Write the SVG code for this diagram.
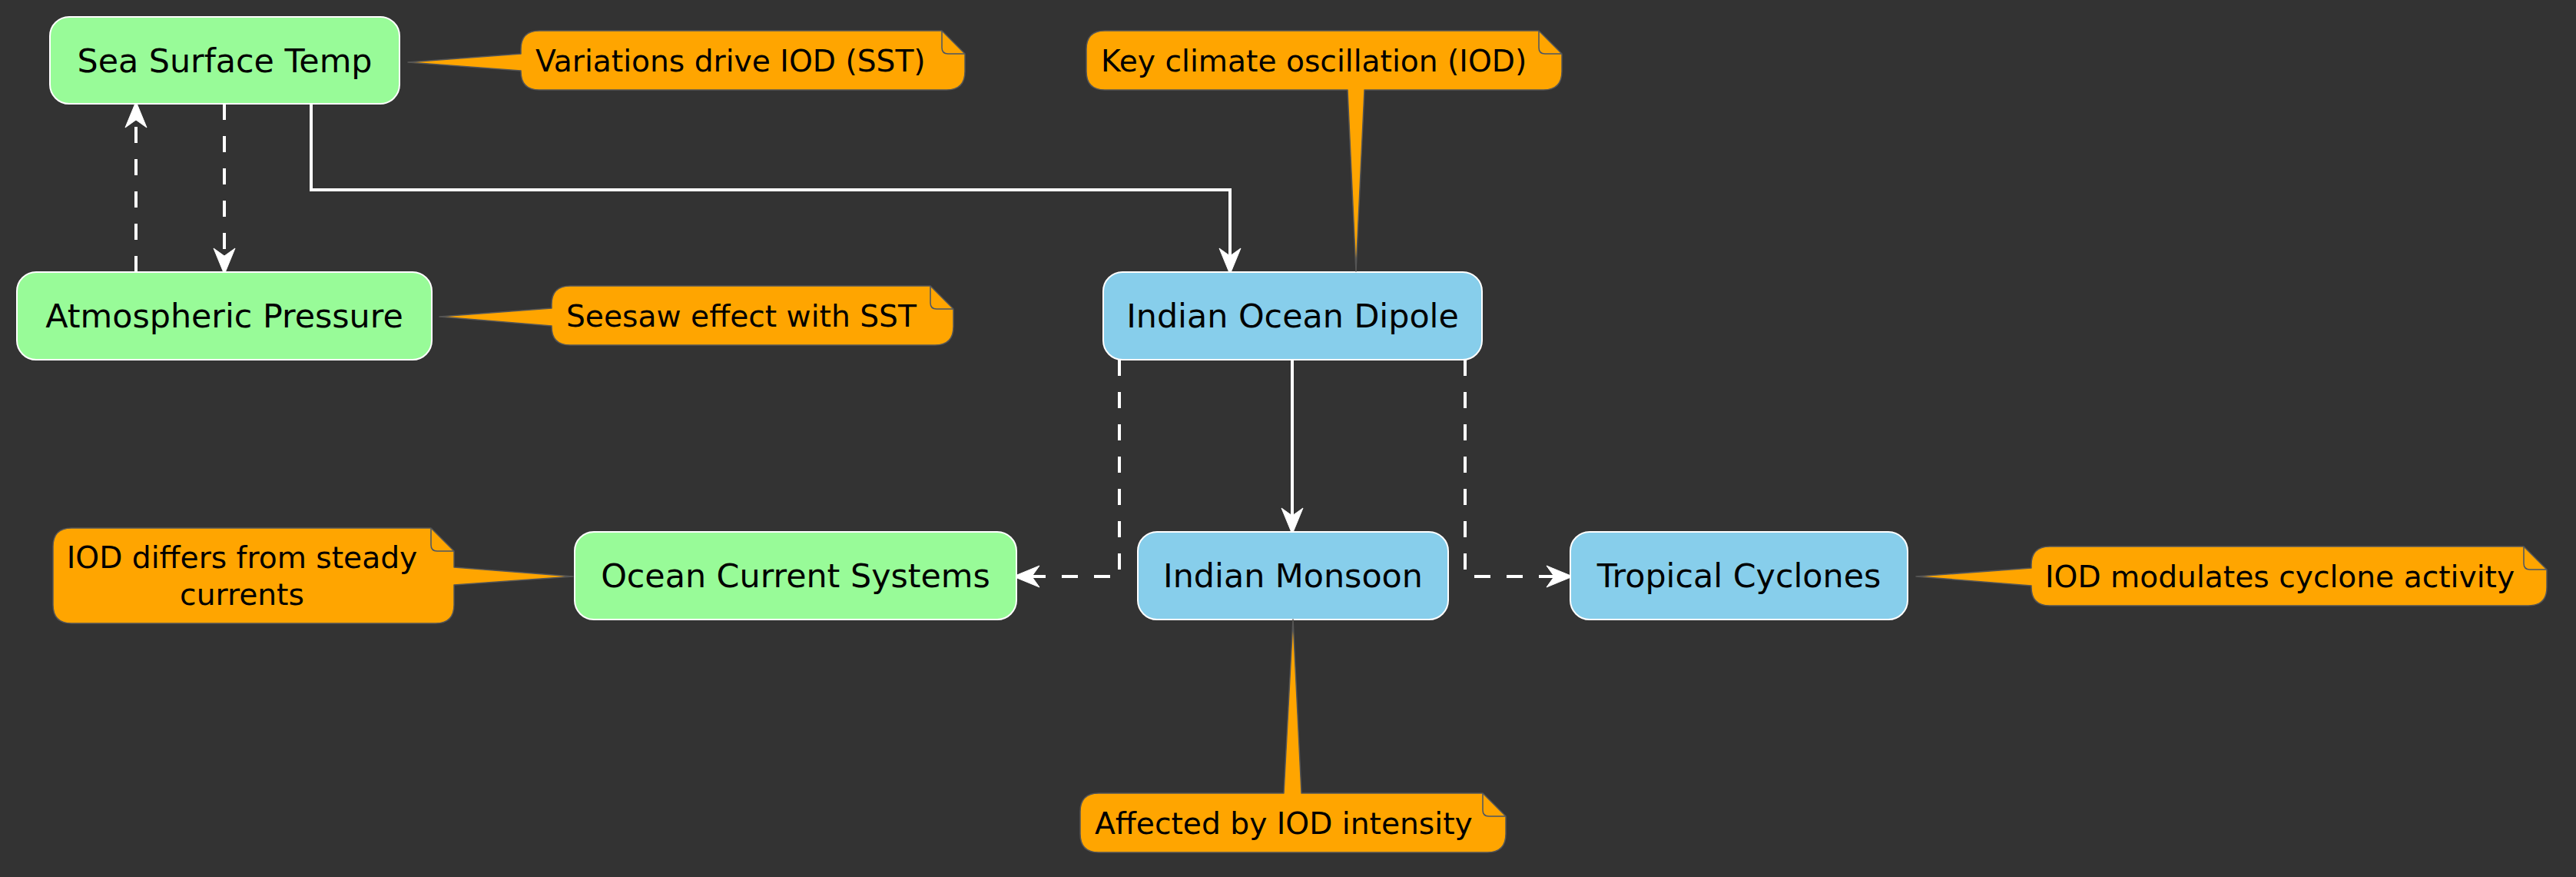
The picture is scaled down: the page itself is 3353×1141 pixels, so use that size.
<svg xmlns="http://www.w3.org/2000/svg" width="3353" height="1141" viewBox="0 0 3353 1141">
<style>
.bg{fill:#333333}
.green{fill:#98FB98;stroke:#FFFFFF;stroke-width:2}
.blue{fill:#87CEEB;stroke:#FFFFFF;stroke-width:2}
.nt{font-family:"DejaVu Sans",Verdana,sans-serif;font-size:42.8px;fill:#000000;text-anchor:middle}
.note{fill:#FFA500;stroke:#555555;stroke-width:1.5;stroke-linejoin:round}
.fold{fill:none;stroke:#4a5566;stroke-width:1.5}
.ntext{font-family:"DejaVu Sans",Verdana,sans-serif;font-size:39.2px;fill:#000000}
.edge{fill:none;stroke:#FFFFFF;stroke-width:4}
.dash{stroke-dasharray:21 21}
</style>
<defs>
<marker id="arr" markerUnits="userSpaceOnUse" viewBox="-18 -17 42 34" refX="0" refY="0" markerWidth="42" markerHeight="34" orient="auto">
<path d="M20,0 L-14,-14 L-4,0 L-14,14 Z" fill="#FFFFFF" stroke="#FFFFFF" stroke-width="1" stroke-linejoin="round"/>
</marker>
</defs>
<rect class="bg" x="0" y="0" width="3353" height="1141"/>

<g id="connectors">
<path class="edge dash" d="M292,135 L292,337" marker-end="url(#arr)"/>
<path class="edge dash" d="M177,354 L177,152" marker-end="url(#arr)"/>
<path class="edge" d="M405,135 L405,247 L1601,247 L1601,337" marker-end="url(#arr)"/>
<path class="edge" d="M1682,468 L1682,675" marker-end="url(#arr)"/>
<path class="edge dash" d="M1457,468 L1457,750 L1339,750" marker-end="url(#arr)"/>
<path class="edge dash" d="M1907,468 L1907,750 L2027,750" marker-end="url(#arr)"/>
</g>

<g id="sst">
<rect class="green" x="65" y="22" width="455" height="113" rx="25"/>
<text class="nt" x="292.5" y="93.5">Sea Surface Temp</text>
</g>
<g id="ap">
<rect class="green" x="22" y="354" width="540" height="114" rx="25"/>
<text class="nt" x="292" y="426">Atmospheric Pressure</text>
</g>
<g id="iod">
<rect class="blue" x="1436" y="354" width="493" height="114" rx="25"/>
<text class="nt" x="1682.5" y="426">Indian Ocean Dipole</text>
</g>
<g id="ocs">
<rect class="green" x="748" y="692" width="575" height="114" rx="25"/>
<text class="nt" x="1035.5" y="764">Ocean Current Systems</text>
</g>
<g id="im">
<rect class="blue" x="1481" y="692" width="404" height="114" rx="25"/>
<text class="nt" x="1683" y="764">Indian Monsoon</text>
</g>
<g id="tc">
<rect class="blue" x="2044" y="692" width="439" height="114" rx="25"/>
<text class="nt" x="2263.5" y="764">Tropical Cyclones</text>
</g>

<g id="note-sst">
<path class="note" d="M702,40 L1226,40 L1256,70 L1256,93 Q1256,117 1232,117 L702,117 Q678,117 678,93 L678,92 L531,81 L678,70 L678,64 Q678,40 702,40 Z"/>
<path class="fold" d="M1226,40 L1226,62 Q1226,70 1234,70 L1256,70"/>
<text class="ntext" x="697" y="92.5">Variations drive IOD (SST)</text>
</g>
<g id="note-ap">
<path class="note" d="M742,372 L1211,372 L1241,402 L1241,425 Q1241,449 1217,449 L742,449 Q718,449 718,425 L718,424 L572,412 L718,401 L718,396 Q718,372 742,372 Z"/>
<path class="fold" d="M1211,372 L1211,394 Q1211,402 1219,402 L1241,402"/>
<text class="ntext" x="737" y="424.5">Seesaw effect with SST</text>
</g>
<g id="note-iod">
<path class="note" d="M1438,40 L2003,40 L2033,70 L2033,93 Q2033,117 2009,117 L1776,117 L1765,353 L1754,117 L1438,117 Q1414,117 1414,93 L1414,64 Q1414,40 1438,40 Z"/>
<path class="fold" d="M2003,40 L2003,62 Q2003,70 2011,70 L2033,70"/>
<text class="ntext" x="1433" y="92.5">Key climate oscillation (IOD)</text>
</g>
<g id="note-ocs">
<path class="note" d="M93,687 L561,687 L591,717 L591,738 L746,750 L591,761 L591,787 Q591,811 567,811 L93,811 Q69,811 69,787 L69,711 Q69,687 93,687 Z"/>
<path class="fold" d="M561,687 L561,709 Q561,717 569,717 L591,717"/>
<text class="ntext" text-anchor="middle" x="315" y="739">IOD differs from steady</text>
<text class="ntext" text-anchor="middle" x="315" y="787">currents</text>
</g>
<g id="note-tc">
<path class="note" d="M2668,711 L3285,711 L3315,741 L3315,764 Q3315,788 3291,788 L2668,788 Q2644,788 2644,764 L2644,762 L2494,750 L2644,739 L2644,735 Q2644,711 2668,711 Z"/>
<path class="fold" d="M3285,711 L3285,733 Q3285,741 3293,741 L3315,741"/>
<text class="ntext" x="2662" y="763.5">IOD modulates cyclone activity</text>
</g>
<g id="note-im">
<path class="note" d="M1430,1032 L1671,1032 L1683,806 L1694,1032 L1930,1032 L1960,1062 L1960,1085 Q1960,1109 1936,1109 L1430,1109 Q1406,1109 1406,1085 L1406,1056 Q1406,1032 1430,1032 Z"/>
<path class="fold" d="M1930,1032 L1930,1054 Q1930,1062 1938,1062 L1960,1062"/>
<text class="ntext" x="1425" y="1084.5">Affected by IOD intensity</text>
</g>
</svg>
